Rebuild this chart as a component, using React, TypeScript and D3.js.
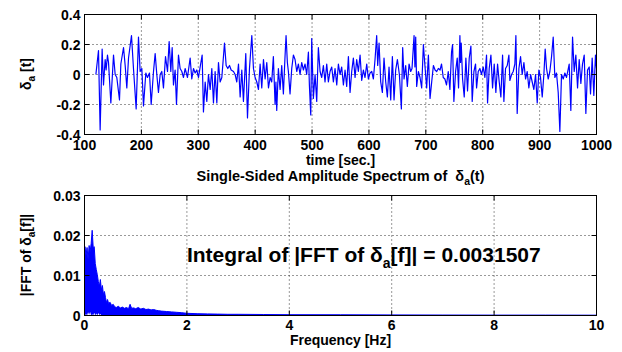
import React from 'react';
import * as d3 from 'd3';

// time [sec.] , delta_a value
const signal: [number, number][] = [
  [120.0, 0.00], [124.6, 0.16], [127.5, -0.37], [131.0, 0.17], [133.4, -0.07], [136.3, 0.10], [138.0, 0.03],
  [140.4, 0.13], [142.2, 0.08], [146.3, -0.19], [151.0, 0.13], [153.9, 0.00], [156.8, -0.02], [161.5, -0.17],
  [163.9, 0.07], [168.6, 0.18], [171.5, 0.06], [174.4, -0.09], [177.4, 0.11], [182.6, 0.26], [186.1, 0.04],
  [190.8, -0.23], [194.9, 0.25], [197.8, 0.02], [200.8, 0.04], [203.7, -0.21], [207.8, 0.01], [210.7, -0.02],
  [214.2, 0.01], [217.2, -0.20], [221.3, 0.02], [224.2, 0.14], [227.1, 0.00], [230.0, -0.12], [233.0, 0.00],
  [235.9, 0.02], [238.8, -0.09], [242.4, 0.12], [245.9, 0.02], [248.8, 0.22], [251.7, 0.02], [254.1, 0.18],
  [256.4, -0.07], [259.3, 0.03], [261.7, -0.20], [265.2, 0.13], [268.1, 0.04], [271.1, 0.02], [274.0, -0.02],
  [276.9, 0.04], [281.0, -0.02], [285.7, 0.11], [288.6, -0.03], [291.6, 0.04], [294.5, 0.01], [297.4, 0.03],
  [300.4, -0.02], [303.3, 0.05], [306.8, 0.13], [309.1, -0.25], [312.1, -0.05], [315.0, -0.18], [317.9, 0.00],
  [320.9, -0.10], [323.8, 0.04], [326.7, -0.19], [329.6, 0.02], [332.6, -0.19], [335.5, 0.08], [338.4, -0.05],
  [341.4, -0.02], [346.1, 0.21], [349.0, 0.06], [351.9, 0.04], [354.9, 0.06], [357.8, 0.03], [361.9, 0.02],
  [364.8, 0.00], [367.7, -0.05], [370.7, 0.07], [373.6, -0.15], [376.5, 0.03], [379.4, -0.18], [383.5, 0.14],
  [386.5, -0.29], [390.0, 0.04], [394.1, 0.26], [397.0, 0.04], [399.9, -0.02], [402.9, -0.05], [405.8, -0.10],
  [408.7, 0.07], [411.6, -0.09], [414.6, 0.10], [417.5, -0.03], [420.4, 0.08], [423.4, -0.09], [426.3, -0.02],
  [429.1, -0.05], [432.0, 0.12], [435.0, -0.20], [436.5, -0.05], [437.9, -0.24], [440.8, 0.04], [443.8, -0.10],
  [446.7, 0.06], [449.6, -0.13], [452.5, 0.12], [454.3, 0.26], [456.6, 0.08], [458.4, 0.02], [461.3, -0.13],
  [464.3, 0.04], [467.2, 0.13], [470.1, 0.10], [473.1, 0.02], [476.0, 0.07], [478.9, 0.00], [481.8, 0.08],
  [484.8, 0.03], [487.7, 0.07], [490.6, 0.00], [493.6, 0.15], [495.3, -0.07], [497.7, -0.27], [499.4, 0.24],
  [502.3, -0.16], [505.3, 0.00], [508.2, -0.18], [511.1, 0.18], [514.1, 0.02], [517.0, -0.02], [519.9, 0.06],
  [522.8, -0.05], [525.8, 0.07], [528.7, -0.05], [531.6, 0.02], [534.6, 0.05], [537.5, -0.05], [540.4, 0.04],
  [543.4, -0.07], [546.3, 0.07], [549.2, 0.00], [552.1, 0.05], [555.1, -0.07], [558.0, 0.03], [560.9, -0.08],
  [563.9, 0.12], [566.8, -0.12], [569.7, 0.02], [572.6, 0.11], [575.6, -0.02], [578.5, 0.10], [581.4, 0.02],
  [584.4, 0.13], [587.3, -0.04], [590.2, 0.03], [593.1, -0.02], [596.1, 0.07], [599.0, -0.03], [601.9, 0.01],
  [604.9, 0.02], [607.8, -0.03], [610.7, 0.10], [613.6, 0.26], [615.4, 0.06], [617.8, 0.21], [620.7, -0.05],
  [623.6, -0.12], [626.5, 0.11], [629.5, -0.05], [632.4, -0.15], [635.3, 0.05], [638.3, -0.17], [641.2, 0.12],
  [644.1, -0.17], [647.0, 0.03], [650.0, 0.10], [653.5, 0.00], [657.0, -0.23], [659.3, 0.18], [661.7, -0.03],
  [664.6, 0.06], [667.5, -0.08], [670.5, 0.07], [673.4, 0.02], [675.7, 0.04], [679.3, 0.26], [680.8, 0.05],
  [682.2, 0.25], [683.9, -0.08], [686.9, 0.02], [689.8, -0.02], [692.7, -0.09], [695.7, 0.20], [698.6, 0.05],
  [701.5, -0.09], [704.5, 0.13], [707.4, -0.16], [710.3, -0.05], [713.3, 0.06], [716.2, 0.03], [719.1, 0.02],
  [722.0, 0.04], [725.0, 0.03], [727.6, 0.07], [730.6, -0.02], [733.5, -0.03], [736.4, -0.07], [739.4, 0.02],
  [742.3, -0.10], [745.2, 0.15], [747.0, 0.20], [749.3, -0.18], [752.3, 0.02], [755.2, 0.11], [757.5, -0.09],
  [759.9, 0.26], [761.0, 0.08], [762.2, 0.21], [764.6, -0.03], [767.5, -0.15], [770.4, 0.11], [773.3, -0.11],
  [776.3, 0.11], [779.2, 0.19], [781.5, -0.18], [784.5, 0.02], [787.4, 0.07], [789.2, -0.09], [792.1, 0.02],
  [795.0, 0.04], [797.9, 0.00], [800.9, 0.05], [803.8, -0.02], [806.7, 0.13], [808.5, -0.19], [811.4, 0.04],
  [814.4, 0.13], [817.3, -0.09], [820.2, 0.07], [823.1, -0.12], [826.1, 0.07], [829.0, -0.05], [831.9, -0.15],
  [834.9, 0.13], [837.2, -0.18], [840.1, 0.04], [843.1, 0.06], [846.0, 0.13], [847.7, -0.04], [850.7, 0.00],
  [853.6, 0.02], [856.5, 0.07], [858.3, 0.26], [860.6, -0.26], [863.6, 0.04], [866.5, 0.12], [869.4, 0.00],
  [872.4, 0.08], [875.3, -0.03], [878.2, 0.02], [881.1, -0.09], [884.1, 0.00], [887.0, -0.05], [889.9, -0.10],
  [892.9, 0.00], [895.8, -0.19], [898.7, 0.03], [901.6, -0.02], [904.6, -0.15], [907.5, 0.00], [909.8, 0.17],
  [912.2, 0.04], [915.1, -0.03], [918.0, 0.02], [921.0, 0.12], [923.9, 0.25], [926.8, -0.02], [929.7, 0.01],
  [932.7, -0.12], [935.6, -0.38], [938.5, 0.00], [941.5, -0.03], [944.4, 0.01], [947.3, -0.02], [952.0, 0.07],
  [954.9, -0.24], [957.9, 0.25], [960.8, 0.02], [963.7, 0.13], [966.7, -0.09], [969.6, 0.10], [972.5, -0.06],
  [975.4, 0.07], [978.4, 0.13], [981.3, -0.26], [984.2, 0.03], [987.2, 0.05], [989.5, -0.13], [992.4, 0.11],
  [995.3, -0.14], [998.2, 0.13], [1000.0, 0.04],
];

// single-sided spectrum: frequency [Hz], upper and lower envelope of |FFT|
const fftFreq = [
  0, 0.01, 0.03, 0.05, 0.07, 0.09, 0.11, 0.13, 0.15, 0.17,
  0.19, 0.21, 0.23, 0.25, 0.27, 0.29, 0.31, 0.33, 0.35, 0.37,
  0.39, 0.41, 0.43, 0.45, 0.47, 0.50, 0.53, 0.56, 0.59, 0.62,
  0.66, 0.70, 0.74, 0.78, 0.82, 0.86, 0.89, 0.92, 0.96, 1.00,
  1.05, 1.10, 1.15, 1.20, 1.25, 1.30, 1.35, 1.40, 1.45, 1.50,
  1.60, 1.70, 1.80, 1.90, 2.00, 2.20, 2.40, 2.60, 2.80, 3.00,
  3.50, 4.00, 5.00, 6.00, 7.00, 8.00, 9.00, 10.0,
];
const fftUpper = [
  0.0165, 0.0172, 0.0150, 0.0170, 0.0140, 0.0175, 0.0160, 0.0180, 0.0213, 0.0170,
  0.0172, 0.0130, 0.0115, 0.0102, 0.0085, 0.0073, 0.0090, 0.0064, 0.0075, 0.0052,
  0.0060, 0.0045, 0.0032, 0.0040, 0.0030, 0.0033, 0.0025, 0.0028, 0.0022, 0.0020,
  0.0023, 0.0019, 0.0021, 0.0018, 0.0020, 0.0017, 0.0028, 0.0018, 0.0019, 0.0017,
  0.0020, 0.0016, 0.0018, 0.0015, 0.0016, 0.0014, 0.0015, 0.0013, 0.0012, 0.0011,
  0.0010, 0.0009, 0.0008, 0.0007, 0.00055, 0.00045, 0.0004, 0.00035, 0.0003, 0.0003,
  0.00025, 0.0002, 0.00018, 0.00015, 0.00012, 0.0001, 0.0001, 0.00008,
];
const fftLower = [
  0, 0, 0.0004, 0, 0.0008, 0.0002, 0.0009, 0, 0.0003, 0,
  0.0007, 0, 0.0005, 0, 0.0006, 0.0001, 0.0004, 0, 0, 0,
  0, 0, 0, 0, 0, 0, 0, 0, 0, 0,
  0, 0, 0, 0, 0, 0, 0, 0, 0, 0,
  0, 0, 0, 0, 0, 0, 0, 0, 0, 0,
  0, 0, 0, 0, 0, 0, 0, 0, 0, 0,
  0, 0, 0, 0, 0, 0, 0, 0,
];

const timeTicks = [100, 200, 300, 400, 500, 600, 700, 800, 900, 1000];
const deltaTicks = [-0.4, -0.2, 0, 0.2, 0.4];
const deltaTickLabels = ['-0.4', '-0.2', '0', '0.2', '0.4'];
const freqTicks = [0, 2, 4, 6, 8, 10];
const ampTicks = [0, 0.01, 0.02, 0.03];
const ampTickLabels = ['0', '0.01', '0.02', '0.03'];

const FONT = "'Liberation Sans', Arial, Helvetica, sans-serif";
const BLUE = '#0000ff';

type Box = { l: number; r: number; t: number; b: number };

function Grid({ box, x, y, xTicks, yTicks }: any) {
  return (
    <g>
      {xTicks.filter((v: number, i: number) => i > 0 && i < xTicks.length - 1).map((v: number) => (
        <line key={'gx' + v} x1={x(v)} x2={x(v)} y1={box.t} y2={box.b} stroke="#333" strokeWidth={1} strokeDasharray="1,3" />
      ))}
      {yTicks.filter((v: number, i: number) => i > 0 && i < yTicks.length - 1).map((v: number) => (
        <line key={'gy' + v} x1={box.l} x2={box.r} y1={y(v)} y2={y(v)} stroke="#333" strokeWidth={1} strokeDasharray="1,3" />
      ))}
    </g>
  );
}

function Frame({ box, x, y, xTicks, xLabels, yTicks, yLabels, xLabelY }: any) {
  const tl = 5;
  return (
    <g>
      <rect x={box.l} y={box.t} width={box.r - box.l} height={box.b - box.t} fill="none" stroke="#000" strokeWidth={1} />
      {xTicks.map((v: number) => (
        <g key={'tx' + v}>
          <line x1={x(v)} x2={x(v)} y1={box.b} y2={box.b - tl} stroke="#000" />
          <line x1={x(v)} x2={x(v)} y1={box.t} y2={box.t + tl} stroke="#000" />
        </g>
      ))}
      {yTicks.map((v: number) => (
        <g key={'ty' + v}>
          <line x1={box.l} x2={box.l + tl} y1={y(v)} y2={y(v)} stroke="#000" />
          <line x1={box.r} x2={box.r - tl} y1={y(v)} y2={y(v)} stroke="#000" />
        </g>
      ))}
      {xTicks.map((v: number, i: number) => (
        <text key={'lx' + v} x={x(v)} y={xLabelY} textAnchor="middle" fontFamily={FONT} fontWeight="bold" fontSize={14}>
          {xLabels[i]}
        </text>
      ))}
      {yTicks.map((v: number, i: number) => (
        <text key={'ly' + v} x={box.l - 4} y={y(v)} dy="0.36em" textAnchor="end" fontFamily={FONT} fontWeight="bold" fontSize={14}>
          {yLabels[i]}
        </text>
      ))}
    </g>
  );
}

export default function App() {
  const topBox: Box = { l: 84.5, r: 596.5, t: 14.5, b: 134.5 };
  const botBox: Box = { l: 84.5, r: 596.5, t: 195.5, b: 315.5 };

  const xT = d3.scaleLinear().domain([100, 1000]).range([topBox.l, topBox.r]);
  const yT = d3.scaleLinear().domain([-0.4, 0.4]).range([topBox.b, topBox.t]);
  const xB = d3.scaleLinear().domain([0, 10]).range([botBox.l, botBox.r]);
  const yB = d3.scaleLinear().domain([0, 0.03]).range([botBox.b, botBox.t]);

  const sigPath = d3.line<[number, number]>().x((d) => xT(d[0])).y((d) => yT(d[1]))(signal) || '';

  const idx = d3.range(fftFreq.length);
  const fftArea = d3.area<number>()
    .x((i) => xB(fftFreq[i]))
    .y0((i) => yB(fftLower[i]))
    .y1((i) => yB(fftUpper[i]))(idx) || '';
  const fftLine = d3.line<number>().x((i) => xB(fftFreq[i])).y((i) => yB(fftUpper[i]))(idx) || '';

  const cx = (topBox.l + topBox.r) / 2;

  return (
    <svg width={622} height={352} style={{ position: 'absolute', left: 0, top: 0, background: '#fff' }}>
      <defs>
        <clipPath id="clipTop"><rect x={topBox.l} y={topBox.t} width={topBox.r - topBox.l} height={topBox.b - topBox.t} /></clipPath>
        <clipPath id="clipBot"><rect x={botBox.l} y={botBox.t} width={botBox.r - botBox.l} height={botBox.b - botBox.t} /></clipPath>
      </defs>
      <rect x={0} y={0} width={622} height={352} fill="#fff" />

      {/* top plot */}
      <Grid box={topBox} x={xT} y={yT} xTicks={timeTicks} yTicks={deltaTicks} />
      <g clipPath="url(#clipTop)">
        <path d={sigPath} fill="none" stroke={BLUE} strokeWidth={1.2} strokeLinejoin="round" />
      </g>
      <Frame box={topBox} x={xT} y={yT} xTicks={timeTicks} xLabels={timeTicks.map(String)} yTicks={deltaTicks} yLabels={deltaTickLabels} xLabelY={150} />
      <text x={cx} y={165} textAnchor="middle" fontFamily={FONT} fontWeight="bold" fontSize={14}>time [sec.]</text>
      <text transform="translate(31,74) rotate(-90)" textAnchor="middle" fontFamily={FONT} fontWeight="bold" fontSize={14}>
        δ<tspan fontSize={10} dy={4}>a</tspan><tspan dy={-4}> [t]</tspan>
      </text>

      {/* bottom plot */}
      <text x={cx} y={181} textAnchor="middle" fontFamily={FONT} fontWeight="bold" fontSize={14.5} xmlSpace="preserve">
        Single-Sided Amplitude Spectrum of  δ<tspan fontSize={10.5} dy={4}>a</tspan><tspan dy={-4}>(t)</tspan>
      </text>
      <Grid box={botBox} x={xB} y={yB} xTicks={freqTicks} yTicks={ampTicks} />
      <g clipPath="url(#clipBot)">
        <path d={fftArea} fill={BLUE} stroke="none" />
        <path d={fftLine} fill="none" stroke={BLUE} strokeWidth={1} />
      </g>
      <Frame box={botBox} x={xB} y={yB} xTicks={freqTicks} xLabels={freqTicks.map(String)} yTicks={ampTicks} yLabels={ampTickLabels} xLabelY={330} />
      <text x={cx} y={345} textAnchor="middle" fontFamily={FONT} fontWeight="bold" fontSize={14}>Frequency [Hz]</text>
      <text transform="translate(31,255) rotate(-90)" textAnchor="middle" fontFamily={FONT} fontWeight="bold" fontSize={14}>
        |FFT of δ<tspan fontSize={10} dy={4}>a</tspan><tspan dy={-4}>[f]|</tspan>
      </text>
      <text x={xB(2)} y={262} fontFamily={FONT} fontWeight="bold" fontSize={21}>
        Integral of |FFT of δ<tspan fontSize={14} dy={6}>a</tspan><tspan dy={-6}>[f]| = 0.0031507</tspan>
      </text>
    </svg>
  );
}
